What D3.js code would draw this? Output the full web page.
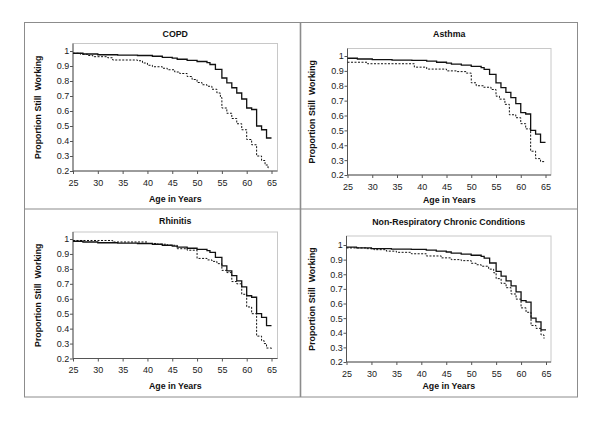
<!DOCTYPE html>
<html><head><meta charset="utf-8">
<script src="https://cdn.jsdelivr.net/npm/d3@7"></script>
<style>
body{margin:0;background:#fff;}
svg{display:block;font-family:"Liberation Sans",Arial,sans-serif;}
</style></head>
<body>
<svg id="c" width="600" height="427"></svg>
<script>
// ---- data ----
const titles = ["COPD", "Asthma", "Rhinitis", "Non-Respiratory Chronic Conditions"];
const xTicks = [25, 30, 35, 40, 45, 50, 55, 60, 65];
const yTicks = [0.2, 0.3, 0.4, 0.5, 0.6, 0.7, 0.8, 0.9, 1];

// solid line (reference group, same in every panel)
const refAges = [25, 27, 30, 34, 38, 41, 43, 45, 46, 48, 50, 52, 52.6, 53.7, 55, 56, 57, 58, 59, 60, 61, 62, 63, 64, 65];
const refVals = [0.985, 0.98, 0.975, 0.972, 0.97, 0.965, 0.958, 0.952, 0.945, 0.938, 0.93, 0.922, 0.91, 0.877, 0.82, 0.787, 0.755, 0.72, 0.68, 0.62, 0.61, 0.50, 0.475, 0.42, 0.42];

// dashed lines (condition groups)
const copdAges = [25, 26.5, 28, 29, 32, 33, 38, 39, 40, 41, 43, 44, 45.5, 46.5, 48, 49, 50, 51, 52, 53, 54, 54.7, 55, 56, 57, 58, 59, 60, 61, 62, 63, 63.7, 64.3, 64.6];
const copdVals = [0.985, 0.978, 0.97, 0.962, 0.955, 0.94, 0.935, 0.92, 0.905, 0.895, 0.885, 0.875, 0.86, 0.85, 0.83, 0.81, 0.79, 0.775, 0.765, 0.745, 0.72, 0.69, 0.62, 0.585, 0.55, 0.515, 0.475, 0.41, 0.375, 0.30, 0.27, 0.24, 0.22, 0.22];

const asthmaAges = [25, 29, 38.5, 41, 45, 47, 49, 50, 51, 52.5, 54, 55, 55.7, 56.8, 57.7, 59, 60, 61, 62, 63, 64, 65];
const asthmaVals = [0.958, 0.948, 0.925, 0.912, 0.9, 0.895, 0.885, 0.82, 0.8, 0.79, 0.775, 0.73, 0.71, 0.675, 0.605, 0.585, 0.545, 0.51, 0.36, 0.31, 0.29, 0.29];

const rhinAges = [25, 33, 40, 42, 44, 46, 48, 50, 52, 53, 54, 55, 56, 57, 58, 59, 60, 61, 62, 63, 63.5, 64, 65];
const rhinVals = [0.99, 0.98, 0.97, 0.965, 0.958, 0.935, 0.925, 0.87, 0.86, 0.85, 0.835, 0.79, 0.775, 0.715, 0.70, 0.63, 0.545, 0.50, 0.35, 0.32, 0.30, 0.27, 0.265];

const nonrAges = [25, 29, 30.5, 33, 35, 38, 41, 44, 46, 48, 50, 51, 52, 53.5, 54.5, 55, 56, 57, 58, 59, 60, 61, 62, 63, 64, 64.6];
const nonrVals = [0.98, 0.975, 0.968, 0.958, 0.95, 0.94, 0.925, 0.912, 0.9, 0.893, 0.875, 0.865, 0.855, 0.835, 0.81, 0.77, 0.738, 0.708, 0.665, 0.63, 0.57, 0.54, 0.45, 0.43, 0.385, 0.36];

const dashedAges = [copdAges, asthmaAges, rhinAges, nonrAges];
const dashedVals = [copdVals, asthmaVals, rhinVals, nonrVals];

// ---- layout ----
const frames = [
  {left: 73, right: 277.5, top: 43.5, y1: 51, bottom: 171, x65: 271.5},
  {left: 347.5, right: 551, top: 48.5, y1: 56, bottom: 175, x65: 545.5},
  {left: 73, right: 277.5, top: 232, y1: 239, bottom: 358.5, x65: 271.5},
  {left: 346.5, right: 551, top: 236, y1: 245, bottom: 362, x65: 546}
];
const titleY = [37, 37, 223.5, 224.5];
const xLabY = [201.5, 202.5, 389, 389];
const yLabX = [41, 315, 41, 315];

const svg = d3.select("#c");
const font = '"Liberation Sans",Arial,sans-serif';

// outer frame and dividers
svg.append("rect").attr("x", 24.5).attr("y", 22.5).attr("width", 553).attr("height", 374.5)
  .attr("fill", "none").attr("stroke", "#8c8c8c").attr("stroke-width", 1);
svg.append("line").attr("x1", 300.5).attr("x2", 300.5).attr("y1", 22.5).attr("y2", 397)
  .attr("stroke", "#8c8c8c").attr("stroke-width", 1.6);
svg.append("line").attr("x1", 24.5).attr("x2", 577.5).attr("y1", 209).attr("y2", 209)
  .attr("stroke", "#8c8c8c").attr("stroke-width", 1.2);

frames.forEach((f, i) => {
  const x = d3.scaleLinear().domain([25, 65]).range([f.left, f.x65]);
  const y = d3.scaleLinear().domain([0.2, 1]).range([f.bottom, f.y1]);
  const g = svg.append("g");

  // plot border (top/right light)
  g.append("rect").attr("x", f.left).attr("y", f.top).attr("width", f.right - f.left).attr("height", f.bottom - f.top)
    .attr("fill", "#fff").attr("stroke", "#c8c8c8").attr("stroke-width", 1);

  // axes
  const ax = g.append("g").attr("transform", `translate(0,${f.bottom})`)
    .call(d3.axisBottom(x).tickValues(xTicks).tickSize(3).tickPadding(5.5).tickFormat(d3.format("d")));
  ax.select(".domain").attr("d", `M${f.left},0H${f.right}`);
  const ay = g.append("g").attr("transform", `translate(${f.left},0)`)
    .call(d3.axisLeft(y).tickValues(yTicks).tickSize(3).tickPadding(0.8).tickFormat(d => d === 1 ? "1" : d3.format(".1f")(d)));
  ay.select(".domain").attr("d", `M0,${f.top}V${f.bottom}`);
  [ax, ay].forEach(a => {
    a.selectAll(".domain").attr("stroke", "#555").attr("stroke-width", 1);
    a.selectAll(".tick line").attr("stroke", "#555");
    a.selectAll("text").attr("font-size", 9).attr("fill", "#222").attr("font-family", font);
  });

  // lines
  const line = d3.line().x(d => x(d[0])).y(d => y(d[1])).curve(d3.curveStepAfter);
  const dData = dashedAges[i].map((a, k) => [a, dashedVals[i][k]]);
  const rData = refAges.map((a, k) => [a, refVals[k]]);
  g.append("path").datum(dData).attr("d", line).attr("fill", "none")
    .attr("stroke", "#111").attr("stroke-width", 1).attr("stroke-dasharray", "2,1.5");
  g.append("path").datum(rData).attr("d", line).attr("fill", "none")
    .attr("stroke", "#111").attr("stroke-width", 1.3);

  // texts
  const cx = (f.left + f.right) / 2;
  g.append("text").attr("x", cx).attr("y", titleY[i]).attr("text-anchor", "middle")
    .attr("font-size", 8.8).attr("font-weight", "bold").attr("fill", "#111").text(titles[i]);
  g.append("text").attr("x", cx).attr("y", xLabY[i]).attr("text-anchor", "middle")
    .attr("font-size", 8.8).attr("font-weight", "bold").attr("fill", "#111").text("Age in Years");
  const cy = (f.top + f.bottom) / 2;
  g.append("text").attr("transform", `translate(${yLabX[i]},${cy}) rotate(-90)`).attr("text-anchor", "middle")
    .attr("font-size", 8.8).attr("font-weight", "bold").attr("fill", "#111")
    .attr("xml:space", "preserve").style("white-space", "pre").text("Proportion Still  Working");
});
</script>
</body></html>
